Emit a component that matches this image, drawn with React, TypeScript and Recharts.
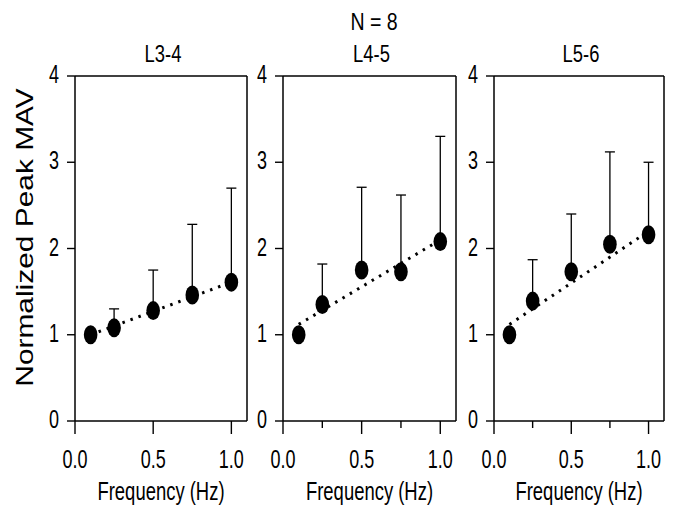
import React from "react";
import { ComposedChart, Scatter, Line, XAxis, YAxis, ErrorBar, ReferenceLine, Label } from "recharts";

// frequencies (Hz) of the five stimulation conditions
const FREQS = [0.1, 0.25, 0.5, 0.75, 1.0];

// normalized peak MAV (mean) and upper SD
const L34_MEAN = [1.0, 1.08, 1.28, 1.46, 1.61];
const L34_SD = [0, 0.22, 0.47, 0.82, 1.09];
const L45_MEAN = [1.0, 1.35, 1.75, 1.73, 2.08];
const L45_SD = [0, 0.47, 0.96, 0.89, 1.22];
const L56_MEAN = [1.0, 1.39, 1.73, 2.05, 2.16];
const L56_SD = [0, 0.48, 0.67, 1.07, 0.84];

// dotted regression lines: value at start and end frequency
const TREND_X = [0.1, 1.0];
const L34_TREND = [1.0, 1.61];
const L45_TREND = [1.12, 2.1];
const L56_TREND = [1.12, 2.2];

const Y_TICKS = [0, 1, 2, 3, 4];
const X_TICKS_MAJOR = [0, 0.5, 1];
const X_TICKS_ALL = [0, 0.25, 0.5, 0.75, 1];
const X_LABELED = [0, 0.5, 1];

const FONT = "'Liberation Sans', Arial, Helvetica, sans-serif";

// the scanned figure is stretched vertically, so text is drawn narrow
const Squeezed = ({ x, y, size, sx, children }: any) => (
    <text
        transform={`translate(${x},${y}) scale(${sx},1)`}
        textAnchor="middle"
        fontFamily={FONT}
        fontSize={size}
        fill="#000"
    >
        {children}
    </text>
);

const XTick = (props: any) => {
    const { x, y, payload } = props;
    const v = payload.value;
    const major = X_LABELED.includes(v);
    return (
        <g>
            <line x1={x} x2={x} y1={y} y2={y + (major ? 13 : 7)} stroke="#000" strokeWidth={1.4} />
            {major && (
                <Squeezed x={x} y={y + 47} size={25} sx={0.72}>
                    {v.toFixed(1)}
                </Squeezed>
            )}
        </g>
    );
};

const YTick = (props: any) => {
    const { x, y, payload } = props;
    return (
        <Squeezed x={x - 13} y={y + 7} size={25} sx={0.72}>
            {payload.value}
        </Squeezed>
    );
};

const Dot = (props: any) => <ellipse cx={props.cx} cy={props.cy} rx={6.8} ry={9.5} fill="#000" />;

interface PanelProps {
    left: number;
    yWidth: number;
    plotWidth: number;
    means: number[];
    sds: number[];
    trend: number[];
    xTicks: number[];
    yLabel?: string;
}

const Panel: React.FC<PanelProps> = ({ left, yWidth, plotWidth, means, sds, trend, xTicks, yLabel }) => {
    const points = FREQS.map((f, i) => ({ x: f, y: means[i], err: [0, sds[i]] }));
    const trendData = TREND_X.map((f, i) => ({ x: f, y: trend[i] }));
    return (
        <div style={{ position: "absolute", left, top: 0 }}>
            <ComposedChart
                width={yWidth + plotWidth + 6}
                height={511}
                margin={{ top: 76, right: 6, bottom: 0, left: 0 }}
            >
                <XAxis
                    type="number"
                    dataKey="x"
                    domain={[0, 1.1]}
                    ticks={xTicks}
                    interval={0}
                    tick={<XTick />}
                    tickLine={false}
                    tickSize={0}
                    tickMargin={0}
                    axisLine={{ stroke: "#000", strokeWidth: 1.5 }}
                    height={90}
                    allowDataOverflow
                >
                    <Label
                        content={(p: any) => {
                            const vb = p.viewBox;
                            return (
                                <Squeezed x={vb.x + vb.width / 2} y={vb.y + 79} size={26} sx={0.71}>
                                    Frequency (Hz)
                                </Squeezed>
                            );
                        }}
                    />
                </XAxis>
                <YAxis
                    type="number"
                    dataKey="y"
                    domain={[0, 4]}
                    ticks={Y_TICKS}
                    interval={0}
                    width={yWidth}
                    tick={<YTick />}
                    tickSize={8}
                    tickMargin={0}
                    tickLine={{ stroke: "#000", strokeWidth: 1.4 }}
                    axisLine={{ stroke: "#000", strokeWidth: 1.5 }}
                    allowDataOverflow
                >
                    {yLabel && (
                        <Label
                            content={(p: any) => {
                                const vb = p.viewBox;
                                const cy = vb.y + vb.height / 2 - 11;
                                return (
                                    <text
                                        transform={`translate(${vb.x + 33},${cy}) rotate(-90) scale(1.3,1)`}
                                        textAnchor="middle"
                                        fontFamily={FONT}
                                        fontSize={23}
                                        fill="#000"
                                    >
                                        {yLabel}
                                    </text>
                                );
                            }}
                        />
                    )}
                </YAxis>
                <ReferenceLine y={4} stroke="#000" strokeWidth={1.5} />
                <ReferenceLine x={1.1} stroke="#000" strokeWidth={1.5} />
                <Line
                    data={trendData}
                    dataKey="y"
                    type="linear"
                    stroke="#000"
                    strokeWidth={3}
                    strokeDasharray="2.5 6"
                    dot={false}
                    isAnimationActive={false}
                />
                <Scatter data={points} dataKey="y" shape={Dot} isAnimationActive={false}>
                    <ErrorBar dataKey="err" direction="y" width={5} stroke="#000" strokeWidth={1.3} />
                </Scatter>
            </ComposedChart>
        </div>
    );
};

const PANELS = [
    { title: "L3-4", left: 0, yWidth: 75, plotWidth: 172, means: L34_MEAN, sds: L34_SD, trend: L34_TREND, xTicks: X_TICKS_MAJOR },
    { title: "L4-5", left: 243, yWidth: 40, plotWidth: 173, means: L45_MEAN, sds: L45_SD, trend: L45_TREND, xTicks: X_TICKS_ALL },
    { title: "L5-6", left: 454, yWidth: 40, plotWidth: 170, means: L56_MEAN, sds: L56_SD, trend: L56_TREND, xTicks: X_TICKS_ALL },
];

export default function App() {
    return (
        <div
            style={{
                position: "absolute",
                left: 0,
                top: 0,
                width: 674,
                height: 511,
                background: "#fff",
                overflow: "hidden",
            }}
        >
            {PANELS.map((p, i) => (
                <Panel
                    key={p.title}
                    left={p.left}
                    yWidth={p.yWidth}
                    plotWidth={p.plotWidth}
                    means={p.means}
                    sds={p.sds}
                    trend={p.trend}
                    xTicks={p.xTicks}
                    yLabel={i === 0 ? "Normalized Peak MAV" : undefined}
                />
            ))}
            {/* figure and panel titles */}
            <svg width={674} height={511} style={{ position: "absolute", left: 0, top: 0, pointerEvents: "none" }}>
                <Squeezed x={374} y={30} size={23} sx={0.85}>
                    N = 8
                </Squeezed>
                {PANELS.map((p) => (
                    <Squeezed key={p.title} x={p.left + p.yWidth + p.plotWidth / 2 + 2} y={62} size={23} sx={0.8}>
                        {p.title}
                    </Squeezed>
                ))}
            </svg>
        </div>
    );
}
